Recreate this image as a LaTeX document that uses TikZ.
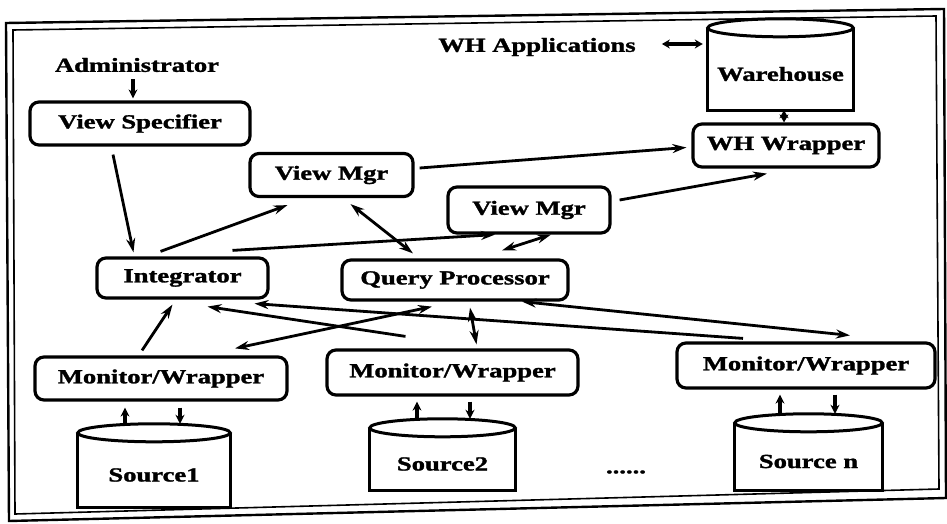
\documentclass[tikz,border=0pt]{standalone}
\usepackage{fontspec}
\setmainfont{Liberation Serif}[BoldFeatures={FakeBold=1.3}]
\usetikzlibrary{arrows.meta,calc}

% wide bold lettering used throughout the figure
\newcommand{\wtxt}[1]{\scalebox{1.33}[1]{#1}}

% database drum: straight sides, flat bottom, full ellipse on top
\newcommand{\drawdrum}[1]{%
  \draw[line width=3pt] ([yshift=10pt]#1.north west) -- (#1.south west)
      -- (#1.south east) -- ([yshift=10pt]#1.north east);
  \draw[line width=3pt] let \p1=(#1.north west), \p2=(#1.north east) in
      ([yshift=10pt]#1.north) ellipse [x radius={(\x2-\x1)/2}, y radius=9pt];
  \coordinate (#1-top) at ([yshift=19pt]#1.north);
}

\begin{document}
\begin{tikzpicture}[x=1pt,y=-1pt,
  lbl/.style={font=\fontsize{20}{24}\selectfont\bfseries, inner sep=0pt},
  box/.style={lbl, draw, line width=3.2pt, rounded corners=9pt},
  drumbody/.style={lbl},
  oneway/.style={line width=2.8pt, -{Stealth[length=14pt,width=9pt]}},
  twoway/.style={line width=2.8pt, {Stealth[length=14pt,width=9pt]}-{Stealth[length=14pt,width=9pt]}},
  shorttip/.style={line width=3.6pt, -{Stealth[length=9pt,width=9pt]}},
  shortpair/.style={line width=3.6pt, {Stealth[length=8pt,width=9pt]}-{Stealth[length=8pt,width=9pt]}},
]
\useasboundingbox (0,0) rectangle (947,524);

% double frame
\draw[line width=2.4pt] (6,23) -- (944,9) -- (946,498) -- (9,521) -- cycle;
\draw[line width=1.6pt] (13,30) -- (936,16) -- (939,489) -- (15,514) -- cycle;

% nodes
\node[lbl] (admin) at (137,65) {\wtxt{Administrator}};
\node[box, minimum width=220, minimum height=43] (vs) at (140,123.5) {\wtxt{View Specifier}};
\node[box, minimum width=163, minimum height=43] (vm1) at (331.5,175) {\wtxt{View Mgr}};
\node[box, minimum width=162, minimum height=46] (vm2) at (529,210) {\wtxt{View Mgr}};
\node[lbl] (whapp) at (537,47) {\wtxt{WH Applications}};
\node[drumbody, minimum width=145, minimum height=72] (wh) at (780.5,74) {\wtxt{Warehouse}};
\node[box, minimum width=186, minimum height=43] (whw) at (786,145.5) {\wtxt{WH Wrapper}};
\node[box, minimum width=171, minimum height=40] (integ) at (182.5,278) {\wtxt{Integrator}};
\node[box, minimum width=226, minimum height=40] (qp) at (455,280) {\wtxt{Query Processor}};
\node[box, minimum width=252, minimum height=43] (mw1) at (161,378.5) {\wtxt{Monitor/Wrapper}};
\node[box, minimum width=251, minimum height=45] (mw2) at (452.5,372.5) {\wtxt{Monitor/Wrapper}};
\node[box, minimum width=258, minimum height=45] (mw3) at (806,365.5) {\wtxt{Monitor/Wrapper}};
\node[drumbody, minimum width=152, minimum height=64] (src1) at (154,475) {\wtxt{Source1}};
\node[drumbody, minimum width=145, minimum height=52] (src2) at (442.5,464) {\wtxt{Source2}};
\node[drumbody, minimum width=147, minimum height=57] (srcn) at (808.5,461.5) {\wtxt{Source n}};
\node[lbl] (dots) at (626,472) {\wtxt{......}};

\drawdrum{wh}
\drawdrum{src1}
\drawdrum{src2}
\drawdrum{srcn}

% upper connectors
\draw[shorttip] ($(admin.south)+(-4,7)$) -- ($(vs.north)+(-7,-2)$);
\draw[oneway] ($(vs.south)+(-27,8)$) -- ($(integ.north)+(-49,-4)$);
\draw[oneway] ($(integ.north)+(-22,-5)$) -- ($(vm1.south)+(-44,7)$);
\draw[twoway] ($(vm1.south)+(19,6)$) -- ($(qp.north)+(-42,-5)$);
\draw[oneway] ($(integ.north)+(50,-6)$) -- ($(vm2.south)+(-34,0)$);
\draw[twoway] ($(vm2.south)+(22,0)$) -- ($(qp.north)+(47,-8)$);
\draw[oneway] ($(vm1.east)+(5,-7)$) -- ($(whw.west)+(-5,2)$);
\draw[oneway] ($(vm2.east)+(8,-10)$) -- ($(whw.south)+(-19,5)$);
\coordinate (appx) at ($(whapp.east)+(26,-3)$);
\draw[shortpair, shorten >=5pt] (appx) -- (appx -| wh.west);
\draw[shortpair] ($(wh.south)+(3.5,0)$) -- ($(whw.north)+(-2,0)$);

% lower connectors
\draw[oneway] ($(mw1.north)+(-19,-5)$) -- ($(integ.south)+(-10,5)$);
\draw[oneway] ($(mw2.north)+(-47,-12)$) -- ($(integ.south)+(25,7)$);
\draw[oneway] ($(mw3.north)+(-63,-3)$) -- ($(integ.south)+(72,4)$);
\draw[twoway] ($(qp.south)+(-23,5)$) -- ($(mw1.north)+(74,-7)$);
\draw[twoway] ($(qp.south)+(15,6)$) -- ($(mw2.north)+(24,-4)$);
\draw[twoway] ($(qp.south)+(67,0)$) -- ($(mw3.north)+(44,-6)$);

% wrapper <-> source links
\path ($(mw1.south)+(-36,0)$) coordinate (m1a) ($(mw1.south)+(19,0)$) coordinate (m1b)
      ($(mw2.south)+(-35.5,0)$) coordinate (m2a) ($(mw2.south)+(17.5,0)$) coordinate (m2b)
      ($(mw3.south)+(-26,0)$) coordinate (m3a) ($(mw3.south)+(29,0)$) coordinate (m3b);
\draw[shorttip, shorten >=6pt] (m1a |- src1-top) -- (m1a);
\draw[shorttip, shorten <=6pt] (m1b) -- (m1b |- src1-top);
\draw[shorttip, shorten >=5pt] (m2a |- src2-top) -- (m2a);
\draw[shorttip, shorten <=5pt] (m2b) -- (m2b |- src2-top);
\draw[shorttip, shorten >=5pt] (m3a |- srcn-top) -- (m3a);
\draw[shorttip, shorten <=5pt] (m3b) -- (m3b |- srcn-top);
\end{tikzpicture}
\end{document}
